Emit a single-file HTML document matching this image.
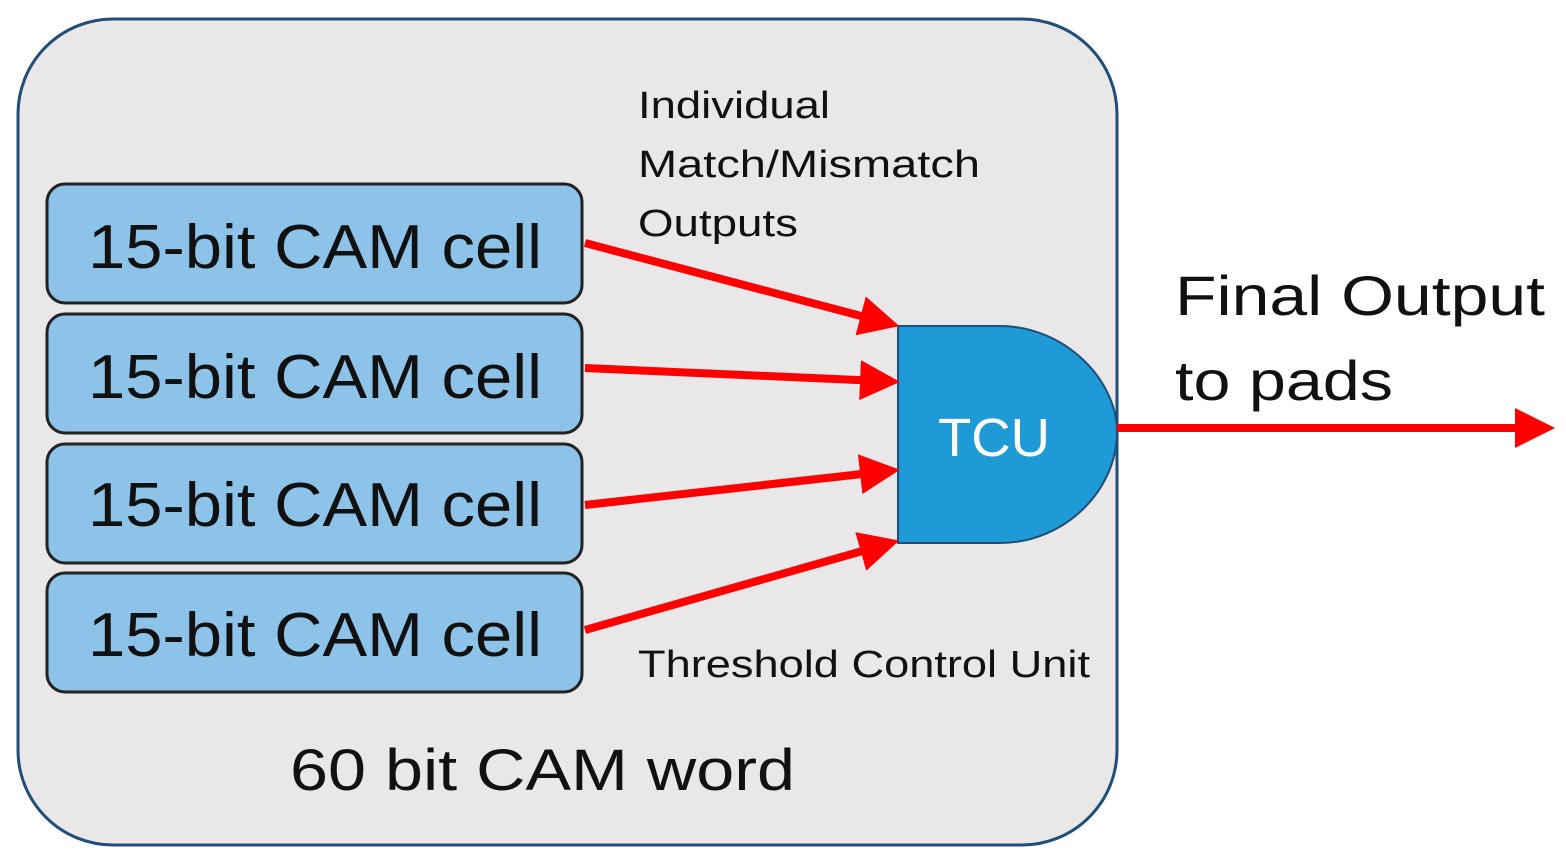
<!DOCTYPE html>
<html><head><meta charset="utf-8"><style>html,body{margin:0;padding:0;background:#fff}svg{display:block}</style></head>
<body>
<svg width="1566" height="866" viewBox="0 0 1566 866" xmlns="http://www.w3.org/2000/svg" font-family="Liberation Sans, sans-serif">
<defs>
<marker id="ah" markerWidth="5" markerHeight="5" refX="2.5" refY="2.5" orient="auto" markerUnits="strokeWidth"><path d="M0,0 L5,2.5 L0,5 Z" fill="#f00"/></marker>
</defs>
<rect x="18" y="19" width="1099" height="826" rx="95" fill="#e9e7e7" stroke="#1f4e79" stroke-width="3"/>
<g fill="#8dc3e8" stroke="#222" stroke-width="3">
<rect x="47" y="184" width="535" height="119" rx="18"/>
<rect x="47" y="314" width="535" height="119" rx="18"/>
<rect x="47" y="444" width="535" height="119" rx="18"/>
<rect x="47" y="573" width="535" height="119" rx="18"/>
</g>
<g font-size="62" fill="#111">
<text x="88" y="268" textLength="454" lengthAdjust="spacingAndGlyphs">15-bit CAM cell</text>
<text x="88" y="398" textLength="454" lengthAdjust="spacingAndGlyphs">15-bit CAM cell</text>
<text x="88" y="526" textLength="454" lengthAdjust="spacingAndGlyphs">15-bit CAM cell</text>
<text x="88" y="656" textLength="454" lengthAdjust="spacingAndGlyphs">15-bit CAM cell</text>
</g>
<path d="M898,326 H1000 C1065,326 1117,380 1117,432 C1117,490 1065,543 1000,543 H898 Z" fill="#1e9ad6" stroke="#1f4e79" stroke-width="2"/>
<text x="938" y="456" font-size="54" fill="#fff" textLength="112" lengthAdjust="spacingAndGlyphs">TCU</text>
<g stroke="#f00" stroke-width="8" marker-end="url(#ah)">
<line x1="585" y1="243" x2="880" y2="321"/>
<line x1="585" y1="368" x2="880" y2="381"/>
<line x1="585" y1="505" x2="880" y2="472"/>
<line x1="585" y1="630" x2="880" y2="546"/>
<line x1="1117" y1="428" x2="1535" y2="428"/>
</g>
<g font-size="38" fill="#111">
<text x="638" y="118" textLength="192" lengthAdjust="spacingAndGlyphs">Individual</text>
<text x="638" y="177" textLength="342" lengthAdjust="spacingAndGlyphs">Match/Mismatch</text>
<text x="638" y="236" textLength="160" lengthAdjust="spacingAndGlyphs">Outputs</text>
<text x="638" y="677" textLength="452" lengthAdjust="spacingAndGlyphs">Threshold Control Unit</text>
</g>
<g font-size="56" fill="#111">
<text x="1175" y="315" textLength="370" lengthAdjust="spacingAndGlyphs">Final Output</text>
<text x="1175" y="400" textLength="218" lengthAdjust="spacingAndGlyphs">to pads</text>
</g>
<text x="290" y="790" font-size="58" fill="#111" textLength="505" lengthAdjust="spacingAndGlyphs">60 bit CAM word</text>
</svg>
</body></html>
